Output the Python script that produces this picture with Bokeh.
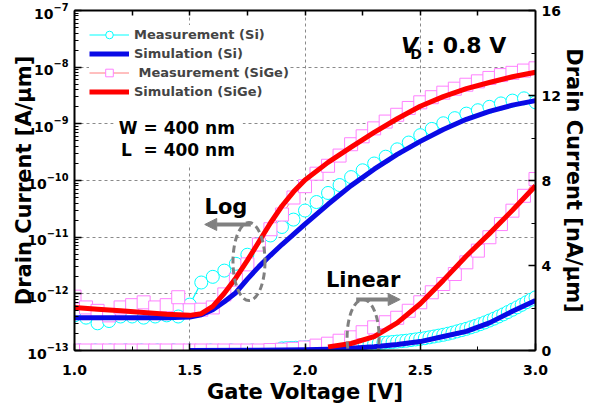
import numpy as np
from bokeh.plotting import figure
from bokeh.models import (Range1d, LinearScale, LinearAxis, FixedTicker, PrintfTickFormatter,
                          Legend, LegendItem, Label, Arrow, NormalHead, BoxAnnotation)
from bokeh.embed import file_html
from bokeh.resources import INLINE

FONT = "DejaVu Sans"

# ---------------- data ----------------
# measurement gate voltages (V)
v_meas = [1.00, 1.05, 1.10, 1.15, 1.20, 1.25, 1.30, 1.35, 1.40, 1.45,
          1.50, 1.55, 1.60, 1.65, 1.70, 1.75, 1.80, 1.85, 1.90, 1.95,
          2.00, 2.05, 2.10, 2.15, 2.20, 2.25, 2.30, 2.35, 2.40, 2.45,
          2.50, 2.55, 2.60, 2.65, 2.70, 2.75, 2.80, 2.85, 2.90, 2.95, 3.00]

# log10 of drain current [A/um], measurement, log panel
si_meas_exp = [-12.38, -12.42, -12.52, -12.48, -12.40, -12.40, -12.42, -12.40, -12.38, -12.40,
               -12.19, -11.80, -11.70, -11.59, -11.47, -11.31, -11.12, -10.97, -10.82, -10.69,
               -10.53, -10.38, -10.22, -10.08, -9.94, -9.82, -9.70, -9.58, -9.45, -9.33,
               -9.20, -9.09, -8.99, -8.90, -8.82, -8.76, -8.70, -8.64, -8.59, -8.55, -8.62]
sige_meas_exp = [-12.05, -12.24, -12.30, -12.38, -12.24, -12.20, -12.15, -12.24, -12.20, -12.06,
                 -12.29, -12.28, -12.24, -12.01, -11.75, -11.48, -11.13, -10.86, -10.60, -10.30,
                 -10.10, -9.88, -9.74, -9.56, -9.36, -9.22, -9.08, -8.96, -8.84, -8.72,
                 -8.62, -8.53, -8.45, -8.38, -8.31, -8.25, -8.19, -8.14, -8.10, -8.06, -8.02]

# simulation, log panel
v_sim = [1.0, 1.1, 1.2, 1.3, 1.4, 1.5, 1.55, 1.6, 1.65, 1.7, 1.75, 1.8, 1.85,
         1.9, 1.95, 2.0, 2.1, 2.2, 2.3, 2.4, 2.5, 2.6, 2.7, 2.8, 2.9, 3.0]
si_sim_exp = [-12.42, -12.42, -12.42, -12.42, -12.42, -12.41, -12.37, -12.28, -12.14, -11.98,
              -11.74, -11.52, -11.32, -11.13, -10.95, -10.77, -10.42, -10.09, -9.80, -9.54,
              -9.31, -9.10, -8.92, -8.78, -8.67, -8.59]
sige_sim_exp = [-12.24, -12.27, -12.30, -12.33, -12.36, -12.38, -12.35, -12.22, -11.99, -11.72,
                -11.41, -11.08, -10.75, -10.45, -10.20, -9.99, -9.68, -9.41, -9.15, -8.91,
                -8.69, -8.52, -8.38, -8.27, -8.17, -8.09]

# linear panel [nA/um]
v_si_meas_lin = [1.02, 1.09, 1.155, 1.22, 1.29, 1.36, 1.43, 1.50, 1.59, 1.68, 1.77, 1.84,
                 1.90, 1.92, 1.94, 1.96, 1.98, 2.00, 2.02, 2.04, 2.06, 2.08, 2.10, 2.12, 2.14,
                 2.16, 2.18, 2.20, 2.22, 2.24, 2.26, 2.28, 2.30, 2.32, 2.34, 2.36, 2.38, 2.40,
                 2.42, 2.44, 2.46, 2.48, 2.50, 2.52, 2.54, 2.56, 2.58, 2.60, 2.62, 2.64, 2.66,
                 2.68, 2.70, 2.72, 2.74, 2.76, 2.78, 2.80, 2.82, 2.84, 2.86, 2.88, 2.90, 2.92,
                 2.94, 2.96, 2.98, 3.00]
si_meas_lin = [0, 0, 0, 0, 0, 0, 0, 0, 0, 0, 0, 0,
               0.10, 0.11, 0.12, 0.13, 0.14, 0.15, 0.16, 0.17, 0.18, 0.19, 0.20, 0.21, 0.22,
               0.23, 0.24, 0.25, 0.26, 0.27, 0.28, 0.30, 0.32, 0.34, 0.36, 0.38, 0.40, 0.42,
               0.44, 0.46, 0.49, 0.52, 0.55, 0.58, 0.62, 0.66, 0.70, 0.74, 0.79, 0.84, 0.90,
               0.96, 1.02, 1.09, 1.16, 1.24, 1.32, 1.41, 1.50, 1.60, 1.70, 1.81, 1.92, 2.03,
               2.15, 2.27, 2.39, 2.50]
sige_meas_lin = [0, 0, 0, 0, 0, 0, 0, 0, 0, 0, 0, 0, 0, 0, 0, 0, 0,
                 0.02, 0.04, 0.08, 0.14, 0.23, 0.32, 0.46, 0.62, 0.86, 1.09, 1.33, 1.54, 1.87,
                 2.27, 2.74, 3.13, 3.60, 4.15, 4.70, 5.33, 5.95, 6.58, 7.28, 8.07]
v_si_sim_lin = [1.5, 1.8, 2.0, 2.1, 2.2, 2.3, 2.4, 2.5, 2.6, 2.7, 2.8, 2.9, 3.0]
si_sim_lin = [0, 0.01, 0.03, 0.06, 0.11, 0.18, 0.28, 0.42, 0.66, 0.90, 1.30, 1.85, 2.35]
v_sige_sim_lin = [2.1, 2.2, 2.3, 2.4, 2.5, 2.6, 2.7, 2.8, 2.9, 3.0]
sige_sim_lin = [0.17, 0.33, 0.65, 1.30, 2.20, 3.30, 4.45, 5.50, 6.60, 7.75]

x_ticks = [1.0, 1.5, 2.0, 2.5, 3.0]
x_minor = [1.25, 1.75, 2.25, 2.75]
x_top_ticks = [1.25, 1.5, 1.75, 2.0, 2.25, 2.5, 2.75]
x_grid = [1.5, 2.0, 2.5]
r_ticks = [0, 4, 8, 12, 16]
r_minor = [2, 6, 10, 14]

# ---------------- figure ----------------
p = figure(frame_width=461, frame_height=340, x_range=Range1d(1.0, 3.0),
           y_range=Range1d(1e-13, 1e-7), y_axis_type="log", output_backend="svg",
           toolbar_location=None, min_border_left=74, min_border_right=40,
           min_border_top=10, min_border_bottom=51)
p.outline_line_color = None
p.background_fill_color = "white"
p.extra_y_ranges = {"lin": Range1d(0, 16)}
p.extra_y_scales = {"lin": LinearScale()}

def style_axis(ax):
    ax.axis_line_width = 2
    ax.axis_line_color = "black"
    ax.major_tick_in = 7
    ax.major_tick_out = 0
    ax.minor_tick_in = 4
    ax.minor_tick_out = 0
    ax.major_tick_line_width = 1.5
    ax.minor_tick_line_width = 1
    ax.major_label_text_font = FONT
    ax.major_label_text_font_style = "bold"
    ax.major_label_text_font_size = "14px"
    ax.major_label_text_color = "black"
    ax.axis_label_text_font = FONT
    ax.axis_label_text_font_style = "bold"
    ax.axis_label_text_font_size = "21px"
    ax.axis_label_text_color = "black"

bx = p.xaxis[0]
style_axis(bx)
bx.ticker = FixedTicker(ticks=x_ticks, minor_ticks=x_minor)
bx.formatter = PrintfTickFormatter(format="%.1f")
bx.major_label_standoff = 14
bx.axis_label = "Gate Voltage [V]"
bx.axis_label_standoff = 2

ly = p.yaxis[0]
style_axis(ly)
ly.major_label_standoff = 6
ly.axis_label = "Drain Current [A/\u00b5m]"
ly.axis_label_standoff = -12

ry = LinearAxis(y_range_name="lin", ticker=FixedTicker(ticks=r_ticks, minor_ticks=r_minor))
style_axis(ry)
ry.major_label_standoff = 6
ry.axis_label = "Drain Current [nA/\u00b5m]"
ry.axis_label_standoff = -2
p.add_layout(ry, "right")

tx = LinearAxis(ticker=FixedTicker(ticks=x_top_ticks, minor_ticks=[]))
style_axis(tx)
tx.major_tick_in = 5
tx.major_label_text_font_size = "1px"
tx.major_label_text_alpha = 0
tx.major_label_standoff = 0
p.add_layout(tx, "above")

p.xgrid.ticker = FixedTicker(ticks=x_grid)
for g in (p.xgrid[0], p.ygrid[0]):
    g.grid_line_color = "#8a8a8a"
    g.grid_line_dash = "3 3"
    g.grid_line_width = 1

# ---------------- glyphs ----------------
CY = "#00ffff"
PK = "#ff80ff"
SAL = "#ff7f7f"
BL = "#0a0ae6"
RD = "#ff0000"

si_meas = [10.0 ** e for e in si_meas_exp]
sige_meas = [10.0 ** e for e in sige_meas_exp]
si_sim = [10.0 ** e for e in si_sim_exp]
sige_sim = [10.0 ** e for e in sige_sim_exp]

# measurement Si (circles)
p.line(v_si_meas_lin, si_meas_lin, y_range_name="lin", line_color=CY, line_width=1.2)
p.scatter(v_si_meas_lin, si_meas_lin, y_range_name="lin", marker="circle", size=13,
          line_color=CY, line_width=1, fill_color="white")
r_cy_line = p.line(v_meas, si_meas, line_color=CY, line_width=1.2)
r_cy = p.scatter(v_meas, si_meas, marker="circle", size=13, line_color=CY, line_width=1,
                 fill_color="white")

# measurement SiGe (squares)
p.line(v_meas, sige_meas_lin, y_range_name="lin", line_color=SAL, line_width=1)
p.scatter(v_meas, sige_meas_lin, y_range_name="lin", marker="square", size=13,
          line_color=PK, line_width=1, fill_color="white")
r_pk_line = p.line(v_meas, sige_meas, line_color=SAL, line_width=1)
r_pk = p.scatter(v_meas, sige_meas, marker="square", size=13, line_color=PK, line_width=1,
                 fill_color="white")

# simulations
p.line(v_si_sim_lin, si_sim_lin, y_range_name="lin", line_color=BL, line_width=5,
       line_join="round")
r_bl = p.line(v_sim, si_sim, line_color=BL, line_width=5, line_join="round")
p.line(v_sige_sim_lin, sige_sim_lin, y_range_name="lin", line_color=RD, line_width=5,
       line_join="round")
r_rd = p.line(v_sim, sige_sim, line_color=RD, line_width=5, line_join="round")

# ellipses around crossing regions
GR = "#808080"
p.ellipse(x=[1.757], y=[10 ** -11.43], width=32, height=78, width_units="screen",
          height_units="screen", fill_color=None, line_color=GR, line_width=3, line_dash="7 4")
p.ellipse(x=[2.252], y=[10 ** -12.77], width=32, height=76, width_units="screen",
          height_units="screen", fill_color=None, line_color=GR, line_width=3, line_dash="7 4")

# white box behind W/L text
p.add_layout(BoxAnnotation(left=1.17, right=1.73, top=10 ** -8.45, bottom=10 ** -9.72,
                           fill_color="white", fill_alpha=1, line_alpha=0))

legend = Legend(items=[
    LegendItem(label="Measurement (Si)", renderers=[r_cy_line, r_cy]),
    LegendItem(label="Simulation (Si)", renderers=[r_bl]),
    LegendItem(label="\u00a0Measurement (SiGe)", renderers=[r_pk_line, r_pk]),
    LegendItem(label="Simulation (SiGe)", renderers=[r_rd]),
], location="top_left", margin=15, padding=12, spacing=0, label_height=19, glyph_height=19,
    glyph_width=40, label_standoff=5, background_fill_color="white", background_fill_alpha=1,
    border_line_color=None, label_text_font=FONT, label_text_font_style="bold",
    label_text_font_size="13px")
p.add_layout(legend)

def lab(text, x, y, size, align="center", baseline="alphabetic", style="bold"):
    p.add_layout(Label(x=x, y=y, text=text, text_font=FONT, text_font_size=f"{size}px",
                       text_font_style=style, text_color="black",
                       text_align=align, text_baseline=baseline))

# annotations
lab("V", 2.417, 10 ** -7.618, 22, align="left", style="bold italic")
lab("D", 2.457, 10 ** -7.76, 14, align="left")
lab(": 0.8 V", 2.526, 10 ** -7.618, 22, align="left")
lab("W = 400 nm", 1.696, 10 ** -9.065, 17, align="right")
lab("L\u00a0\u00a0= 400 nm", 1.696, 10 ** -9.47, 17, align="right")
lab("Log", 1.657, 10 ** -10.459, 21)
lab("Linear", 2.252, 10 ** -11.764, 21)

p.add_layout(Arrow(x_start=1.765, y_start=10 ** -10.776, x_end=1.565, y_end=10 ** -10.776,
                   line_color=GR, line_width=4,
                   end=NormalHead(size=12, fill_color=GR, line_color=GR)))
p.add_layout(Arrow(x_start=2.222, y_start=10 ** -12.1, x_end=2.413, y_end=10 ** -12.1,
                   line_color=GR, line_width=4,
                   end=NormalHead(size=12, fill_color=GR, line_color=GR)))

open("out.html", "w").write(file_html(p, INLINE))
